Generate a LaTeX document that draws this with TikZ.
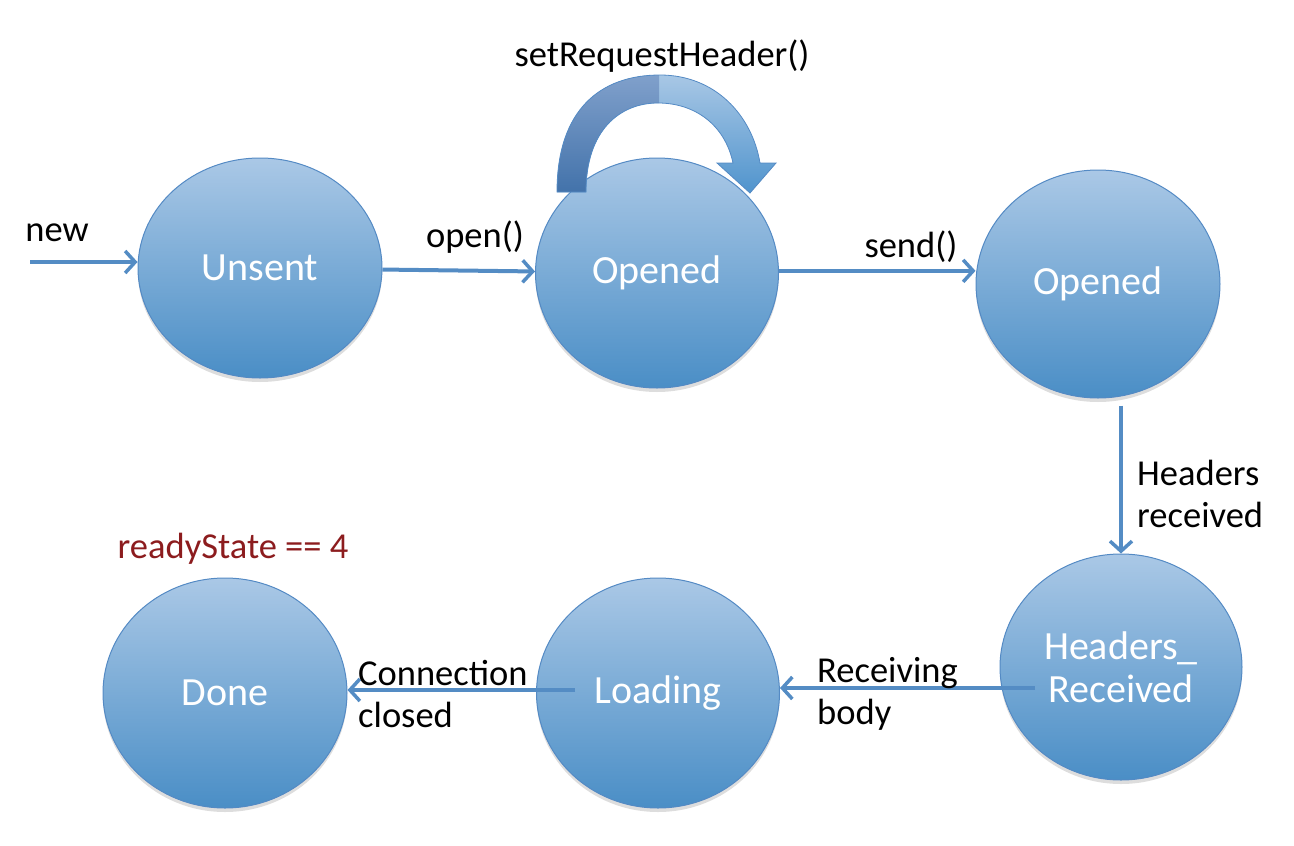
\documentclass[tikz,border=0pt]{standalone}
\usepackage{fontspec}
\setmainfont{Carlito}
\usetikzlibrary{shapes.geometric,arrows.meta,shadows}
\definecolor{circtop}{RGB}{170,200,230}
\definecolor{circbot}{RGB}{74,142,198}
\definecolor{circline}{RGB}{84,138,196}
\definecolor{connc}{RGB}{84,140,196}
\definecolor{arrtop}{RGB}{168,199,229}
\definecolor{arrbot}{RGB}{80,148,205}
\definecolor{arrltop}{RGB}{128,160,203}
\definecolor{arrlbot}{RGB}{66,114,170}
\definecolor{readyc}{RGB}{140,28,30}
\tikzset{
  state/.style={ellipse, inner sep=0pt, draw=circline, line width=1pt,
    top color=circtop, bottom color=circbot, text=white,
    font=\fontsize{40}{43}\selectfont, align=center,
    drop shadow={shadow xshift=0pt, shadow yshift=-4pt, opacity=0.22, fill=black!60}},
  conn/.style={draw=connc, line width=4pt, -{Straight Barb[length=10pt,width=22pt,line width=3.5pt]}},
  lbl/.style={font=\fontsize{36.5}{42}\selectfont, text=black, inner sep=0pt, align=left},
}
\begin{document}
\begin{tikzpicture}[x=1pt,y=-1pt]
\useasboundingbox (0,0) rectangle (1294,846);
% states
\node[state, minimum width=244pt, minimum height=220pt] (u) at (260,268) {Unsent};
\node[state, minimum width=243pt, minimum height=230pt] (o1) at (657,273) {Opened};
\node[state, minimum width=244pt, minimum height=228pt] (o2) at (1098,284) {Opened};
\node[state, minimum width=242pt, minimum height=226pt] (hr) at (1121,667) {Headers\_\\Received};
\node[state, minimum width=243pt, minimum height=230pt] (ld) at (658,693) {Loading};
\node[state, minimum width=244pt, minimum height=230pt] (dn) at (225,693) {Done};
% self-loop block arrow
\def\looparrow{(557,192) .. controls (557,110) and (600,75) .. (660,75)
  .. controls (715,75) and (752,115) .. (760,163)
  -- (776,163) -- (750,193) -- (717,163) -- (733,163)
  .. controls (725,125) and (695,103) .. (658,103)
  .. controls (620,103) and (586,130) .. (586,192) -- cycle}
\path[top color=arrtop, bottom color=arrbot] \looparrow;
\begin{scope}
  \clip (540,60) rectangle (659,200);
  \path[top color=arrltop, bottom color=arrlbot] \looparrow;
\end{scope}
\path[draw=circline, line width=0.8pt] \looparrow;
% connectors
\coordinate (newstart) at (30,262);
\coordinate (rbstart) at (1035,688);
\coordinate (ccstart) at (575,690);
\draw[conn] (newstart) -- (newstart -| u.west);
\draw[conn] (u) -- (o1);
\draw[conn] (o1.1) -- (o1.1 -| o2.west);
\draw[conn, shorten <=7pt] (hr.north |- o2.south) -- (hr.north);
\draw[conn] (rbstart) -- (rbstart -| ld.east);
\draw[conn] (ccstart) -- (ccstart -| dn.east);
% labels
\node[lbl, anchor=base] (lnew) at (57,241) {new};
\node[lbl, anchor=base] (lopen) at (475,247) {open()};
\node[lbl, anchor=base] (lsend) at (911,257) {send()};
\node[lbl, anchor=base] (lsrh) at (662,66) {setRequestHeader()};
\node[lbl, anchor=west] (lhr) at (1137,494) {Headers\\received};
\node[lbl, anchor=west] (lrb) at (817,694) {Receiving\\body};
\node[lbl, anchor=west] (lcc) at (358,694) {Connection\\closed};
\node[lbl, anchor=base, text=readyc] (lready) at (233,558) {readyState == 4};
\end{tikzpicture}
\end{document}
